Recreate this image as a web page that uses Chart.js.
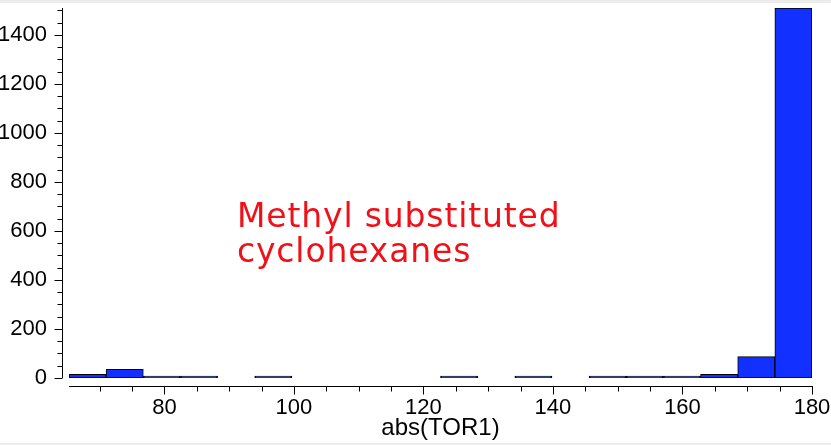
<!DOCTYPE html>
<html>
<head>
<meta charset="utf-8">
<script src="https://cdn.jsdelivr.net/npm/chart.js@4"></script>
<style>
  html, body { margin: 0; padding: 0; background: #ececec; }
  #wrap { position: relative; width: 831px; height: 445px; overflow: hidden; }
  #histChart { position: absolute; left: 0; top: 3px; background: #fff; }
  #note {
    position: absolute; left: 237px; top: 198px;
    font-family: "DejaVu Sans", sans-serif; font-size: 33px; line-height: 35px;
    letter-spacing: 0.85px; color: rgb(240, 16, 24); white-space: pre;
  }
</style>
</head>
<body>
<div id="wrap">
  <canvas id="histChart" width="831" height="440"></canvas>
  <div id="note">Methyl substituted
cyclohexanes</div>
</div>
<script>
document.addEventListener("DOMContentLoaded", function(){

    // histogram bins of abs(TOR1)
    let binEdges = [
      65.27, 71.01, 76.74, 82.48, 88.22, 93.95, 99.69, 105.43, 111.16, 116.90,
      122.64, 128.37, 134.11, 139.85, 145.58, 151.32, 157.06, 162.79, 168.53, 174.26,
      180.0,
    ];
    let binCounts = [15, 35, 7, 2, 0, 2, 0, 0, 0, 0, 2, 0, 2, 0, 2, 2, 2, 15, 87, 1510];

    let xTicks = [80, 100, 120, 140, 160, 180];
    let yTicks = [0, 200, 400, 600, 800, 1000, 1200, 1400];
    const xMinorStep = 5;
    const yMinorStep = 50;

    // bar points: center of each bin, empty bins left out of the drawing
    let barData = binCounts.map((count, i) => ({
      x: (binEdges[i] + binEdges[i + 1]) / 2,
      y: count > 0 ? count : null,
    }));

    // axis lines drawn a few px away from the plot, like the original
    const offsetAxes = {
      id: "offsetAxes",
      afterDraw(chart) {
        const ctx = chart.ctx;
        const xs = chart.scales.x;
        const ys = chart.scales.y;
        const area = chart.chartArea;
        ctx.save();
        ctx.strokeStyle = "#000";
        ctx.lineWidth = 1;

        // y axis
        const ax = Math.round(area.left - 7) + 0.5;
        ctx.beginPath();
        ctx.moveTo(ax, Math.round(ys.getPixelForValue(0)));
        ctx.lineTo(ax, Math.round(area.top));
        for (let v = 0; v <= ys.max; v += yMinorStep) {
          const py = Math.round(ys.getPixelForValue(v)) + 0.5;
          const len = yTicks.includes(v) ? 8 : 5;
          ctx.moveTo(ax, py);
          ctx.lineTo(ax - len, py);
        }
        ctx.stroke();

        // x axis
        const ay = Math.round(ys.getPixelForValue(0) + 8) + 0.5;
        ctx.beginPath();
        ctx.moveTo(Math.round(xs.getPixelForValue(xs.min)), ay);
        ctx.lineTo(Math.round(xs.getPixelForValue(xs.max)) + 1, ay);
        for (let v = Math.ceil(xs.min / xMinorStep) * xMinorStep; v <= xs.max; v += xMinorStep) {
          const px = Math.round(xs.getPixelForValue(v)) + 0.5;
          const len = xTicks.includes(v) ? 8 : 5;
          ctx.moveTo(px, ay);
          ctx.lineTo(px, ay + len);
        }
        ctx.stroke();
        ctx.restore();
      },
    };

    const ctxHist = document.getElementById("histChart").getContext("2d");

    const histChart = new Chart(ctxHist, {
      type: "bar",
      data: {
        datasets: [
          {
            label: "count",
            data: barData,
            backgroundColor: "#1230ff",
            borderColor: "#000",
            borderWidth: 1,
            borderSkipped: false,
            minBarLength: 2,
            barPercentage: 1,
            categoryPercentage: 1,
          },
        ],
      },
      options: {
        responsive: false,
        animation: false,
        devicePixelRatio: 1,
        layout: {
          padding: { top: 5, right: 19, left: 0, bottom: 0 },
        },
        scales: {
          x: {
            type: "linear",
            offset: false,
            min: binEdges[0],
            max: binEdges[binEdges.length - 1],
            grid: { display: false, drawTicks: false },
            border: { display: false },
            afterBuildTicks: (scale) => {
              scale.ticks = xTicks.map((v) => ({ value: v }));
            },
            afterFit: (scale) => {
              scale.height = 65;
              scale.paddingLeft = 0;
              scale.paddingRight = 0;
            },
            ticks: {
              autoSkip: false,
              maxRotation: 0,
              padding: 17,
              color: "#000",
              font: { family: "Liberation Sans", size: 22 },
            },
            title: {
              display: true,
              text: "abs(TOR1)",
              color: "#000",
              font: { family: "Liberation Sans", size: 24 },
              padding: { top: 0, bottom: 0 },
            },
          },
          y: {
            min: 0,
            max: 1510,
            grid: { display: false, drawTicks: false },
            border: { display: false },
            afterBuildTicks: (scale) => {
              scale.ticks = yTicks.map((v) => ({ value: v }));
            },
            afterFit: (scale) => {
              scale.width = 69;
              scale.paddingTop = 0;
              scale.paddingBottom = 0;
            },
            ticks: {
              padding: 22,
              color: "#000",
              font: { family: "Liberation Sans", size: 22 },
              callback: function (value) {
                return String(value);
              },
            },
          },
        },
        plugins: {
          legend: { display: false },
          tooltip: { enabled: false },
        },
      },
      plugins: [offsetAxes],
    });

});
</script>
</body>
</html>
